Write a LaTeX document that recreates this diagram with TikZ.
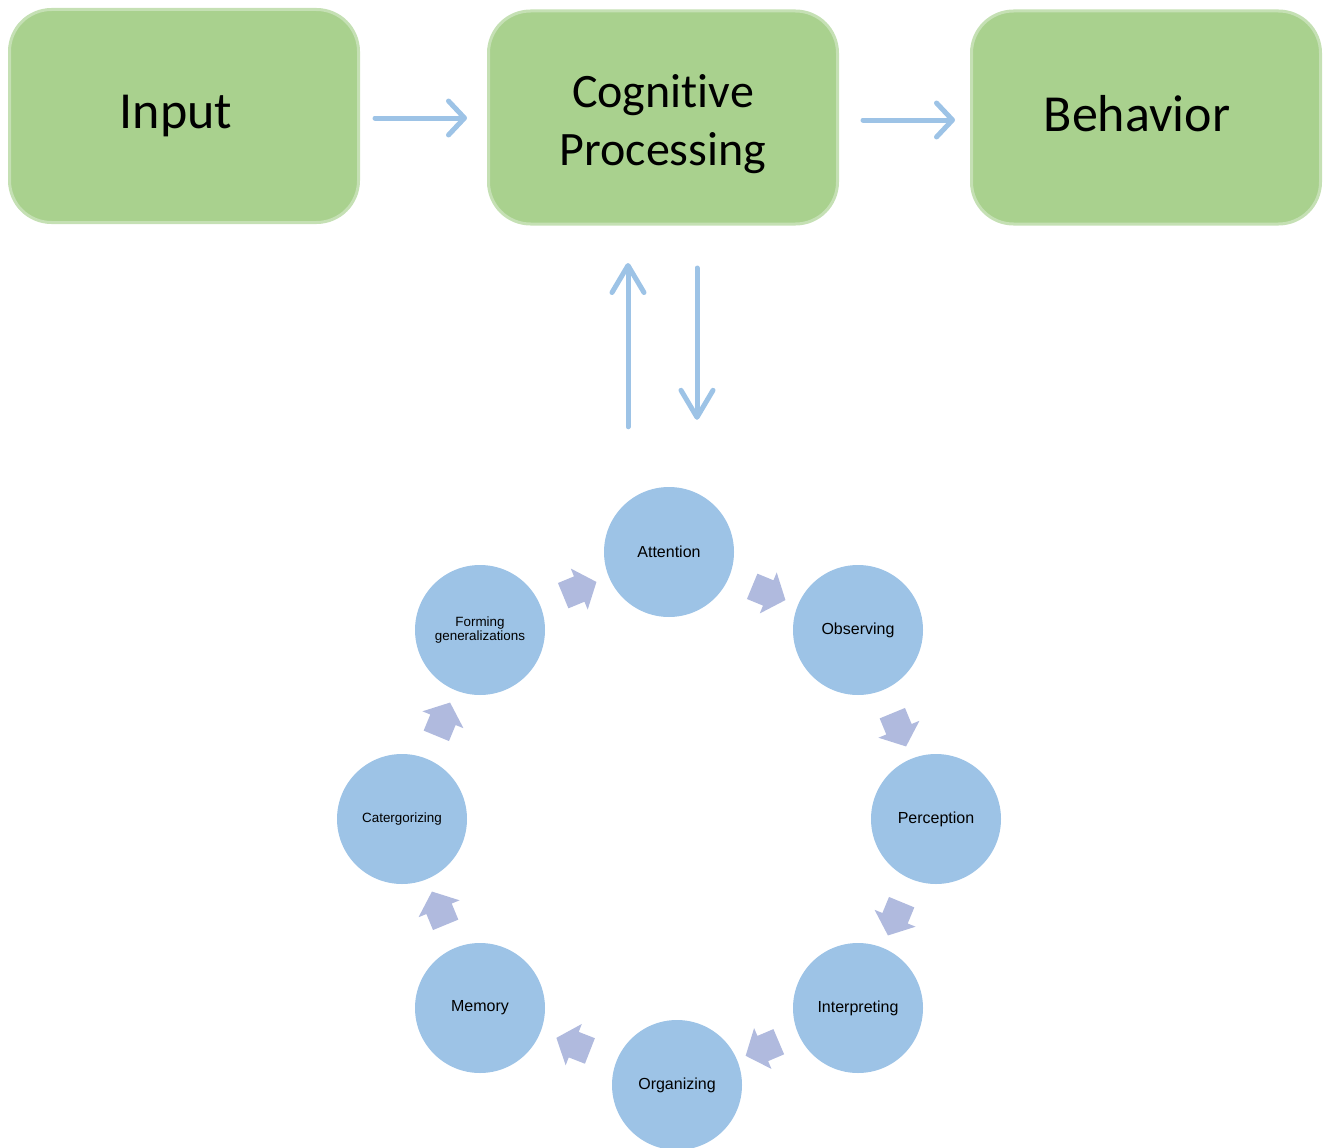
\documentclass[tikz,border=0pt]{standalone}
\usepackage{fontspec}
\setmainfont{Carlito}[Ligatures=NoCommon]
\newfontfamily\circfont{Liberation Sans}
\usetikzlibrary{arrows.meta,shapes.arrows,calc}
\definecolor{boxfill}{HTML}{A9D18E}
\definecolor{boxline}{HTML}{C5E0B4}
\definecolor{flow}{HTML}{9DC3E6}
\definecolor{ring}{HTML}{9DC3E6}
\definecolor{chev}{HTML}{B0BADE}

\begin{document}
\begin{tikzpicture}[x=1pt,y=-1pt,
  stage/.style={draw=boxline, line width=3pt, fill=boxfill, rounded corners=42pt,
    minimum width=349pt, minimum height=213pt, inner sep=0pt, align=center,
    font=\fontsize{52}{59}\selectfont},
  phase/.style={circle, fill=ring, minimum size=130pt, inner sep=0pt, align=center,
    font=\circfont\fontsize{16}{18}\selectfont},
  smallphase/.style={phase, font=\circfont\fontsize{13.4}{14}\selectfont},
  flowarrow/.style={draw=flow, line width=5pt, line cap=round,
    -{Straight Barb[length=16pt,width=34pt,round]}},
  vflowarrow/.style={flowarrow, -{Straight Barb[length=27pt,width=32pt,round]}},
  cyclearrow/.style={single arrow, fill=chev, draw=none, inner xsep=0pt, inner ysep=13.5pt,
    minimum height=36pt, single arrow head extend=8.5pt, single arrow tip angle=100,
    sloped, allow upside down, anchor=center}
]
\useasboundingbox (0,0) rectangle (1326,1148);

% top row of stages
\node[stage] (inp) at (184,116) {Input\kern16pt};
\node[stage, font=\fontsize{48}{58}\selectfont] (cog) at (663,117.5)
  {\rule{0pt}{47pt}Cognitive\\Processing};
\node[stage] (beh) at (1146,117.5) {Behavior\vphantom{p}\kern18pt};

\draw[flowarrow, shorten <=15pt, shorten >=20pt] ([yshift=-2pt]inp.east) -- ([yshift=-0.5pt]cog.west);
\draw[flowarrow, shorten <=24pt, shorten >=15pt] ([yshift=-2.5pt]cog.east) -- ([yshift=-2.5pt]beh.west);

% cycle of processing phases
\node[phase] (att) at (669,552) {Attention};
\node[phase] (obs) at (858,630) {Observing};
\node[phase] (per) at (936,819) {Perception};
\node[phase] (itp) at (858,1008) {Interpreting};
\node[phase] (org) at (677,1085) {Organizing};
\node[phase] (mem) at (480,1008) {Memory};
\node[smallphase] (cat) at (402,819) {Catergorizing};
\node[smallphase] (frm) at (480,630) {Forming\\generalizations};

\path (att) -- node[cyclearrow] {} (obs);
\path (obs) -- node[cyclearrow] {} (per);
\path (per) -- node[cyclearrow] {} (itp);
\path (itp) -- node[cyclearrow] {} (org);
\path (org) -- node[cyclearrow] {} (mem);
\path (mem) -- node[cyclearrow] {} (cat);
\path (cat) -- node[cyclearrow] {} (frm);
\path (frm) -- node[cyclearrow] {} (att);

% exchange between the cycle and cognitive processing
\coordinate (upx) at (628,0);
\coordinate (dnx) at (697,0);
\draw[vflowarrow, shorten <=60pt, shorten >=37.5pt] (att.north -| upx) -- (cog.south -| upx);
\draw[vflowarrow, shorten <=42.5pt, shorten >=67pt] (cog.south -| dnx) -- (att.north -| dnx);
\end{tikzpicture}
\end{document}
